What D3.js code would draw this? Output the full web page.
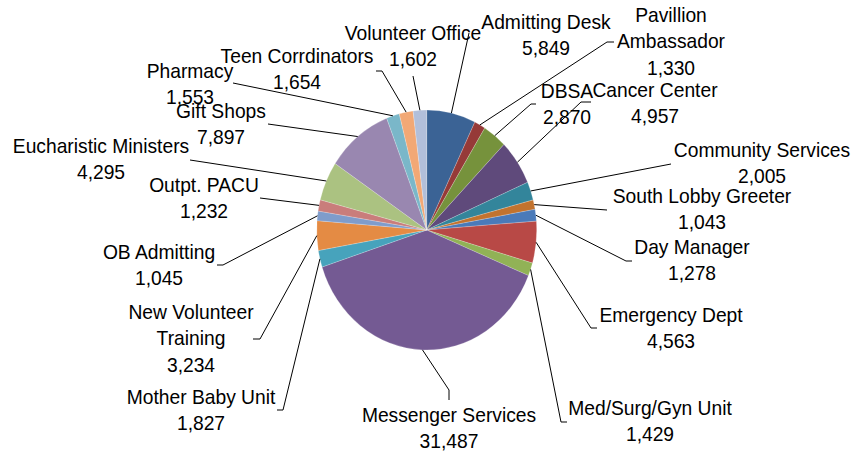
<!DOCTYPE html>
<html>
<head>
<meta charset="utf-8">
<script src="https://cdn.jsdelivr.net/npm/d3@7"></script>
<style>
  body { margin: 0; background: #fff; }
  text { font-family: "Liberation Sans", Arial, sans-serif; fill: #000; }
</style>
</head>
<body>
<div id="chart"></div>
<script>
// Volunteer hours per department, in chart order (clockwise from 12 o'clock)
const categories = [
  "Admitting Desk", "Pavillion Ambassador", "DBSA", "Cancer Center",
  "Community Services", "South Lobby Greeter", "Day Manager", "Emergency Dept",
  "Med/Surg/Gyn Unit", "Messenger Services", "Mother Baby Unit",
  "New Volunteer Training", "OB Admitting", "Outpt. PACU",
  "Eucharistic Ministers", "Gift Shops", "Pharmacy", "Teen Corrdinators",
  "Volunteer Office"
];
const values = [
  5849, 1330, 2870, 4957, 2005, 1043, 1278, 4563, 1429, 31487,
  1827, 3234, 1045, 1232, 4295, 7897, 1553, 1654, 1602
];
const colors = [
  "#3b6395", "#963a38", "#76923c", "#5f4a7b", "#33859b", "#c2732f",
  "#4a7ab9", "#b84946", "#91b256", "#745a93", "#47a3bc", "#e48b44",
  "#7f9ccb", "#c97d7b", "#abc281", "#9987b0", "#7ab7c9", "#f2a875",
  "#b2bfda"
];
// names that Excel wrapped onto two lines
const wrapped = ["Pavillion Ambassador", "New Volunteer Training"];

// label layout: text centre x, first baseline y, leader points next to the label
const labelLayout = [
  { x: 546, y: 29,  lead: [[469, 33]] },
  { x: 671, y: 22,  lead: [[614, 42], [607, 42]] },
  { x: 567, y: 98,  lead: [[536, 104], [531, 104]] },
  { x: 655, y: 97,  lead: [[591, 102], [581, 102]] },
  { x: 762, y: 157, lead: [[671, 164]] },
  { x: 702, y: 203, lead: [[607, 210]] },
  { x: 692, y: 254, lead: [[632, 261], [626, 261]] },
  { x: 671, y: 322, lead: [[597, 328], [591, 328]] },
  { x: 650, y: 415, lead: [[567, 422], [561, 422]] },
  { x: 449, y: 422, lead: [[449, 400], [449, 390]] },
  { x: 201, y: 404, lead: [[277, 410], [283, 410]] },
  { x: 191, y: 319, lead: [[253, 339], [260, 339]] },
  { x: 159, y: 259, lead: [[217, 265], [223, 265]] },
  { x: 204, y: 192, lead: [[260, 198]] },
  { x: 101, y: 153, lead: [[190, 160]] },
  { x: 221, y: 118, lead: [[268, 124]] },
  { x: 190, y: 78,  lead: [[233, 83]] },
  { x: 297, y: 63,  lead: [[376, 71], [382, 71]] },
  { x: 413, y: 40,  lead: [[413, 76]] }
];

const width = 868, height = 454;
const cx = 426.7, cy = 230;
const radius = 120, squeeze = 110 / 120;
const lineGap = 26.5;

const svg = d3.select("#chart")
  .append("svg")
    .attr("width", width)
    .attr("height", height);

const data = categories.map((c, i) => ({ name: c, value: values[i], color: colors[i] }));

const pie = d3.pie()
  .value(d => d.value)
  .sort(null);

const arcs = pie(data);

const arc = d3.arc()
  .innerRadius(0)
  .outerRadius(radius);

// pie is slightly narrower than tall in the source picture
const g = svg.append("g")
  .attr("transform", `translate(${cx},${cy}) scale(${squeeze},1)`);

g.selectAll("path")
  .data(arcs)
  .join("path")
    .attr("d", arc)
    .attr("fill", d => d.data.color)
    .attr("stroke", "#fff")
    .attr("stroke-opacity", 0.35)
    .attr("stroke-width", 0.6);

// leader lines: from label to the slice edge at its middle angle
const edgePoint = d => {
  const a = (d.startAngle + d.endAngle) / 2;
  return [cx + radius * squeeze * Math.sin(a), cy - radius * Math.cos(a)];
};

svg.append("g")
  .selectAll("path")
  .data(arcs)
  .join("path")
    .attr("d", (d, i) => d3.line()(labelLayout[i].lead.concat([edgePoint(d)])))
    .attr("fill", "none")
    .attr("stroke", "#000")
    .attr("stroke-width", 1);

const fmt = d3.format(",");

const labels = svg.append("g")
  .selectAll("text")
  .data(arcs)
  .join("text")
    .attr("text-anchor", "middle")
    .attr("font-size", 21)
    .attr("transform", (d, i) => `translate(${labelLayout[i].x},${labelLayout[i].y}) scale(${squeeze},1)`);

labels.each(function(d) {
  const name = d.data.name;
  let lines = wrapped.includes(name)
    ? [name.slice(0, name.lastIndexOf(" ")), name.slice(name.lastIndexOf(" ") + 1)]
    : [name];
  lines = lines.concat([fmt(d.data.value)]);
  d3.select(this).selectAll("tspan")
    .data(lines)
    .join("tspan")
      .attr("x", 0)
      .attr("y", (l, k) => k * lineGap)
      .text(l => l);
});
</script>
</body>
</html>
